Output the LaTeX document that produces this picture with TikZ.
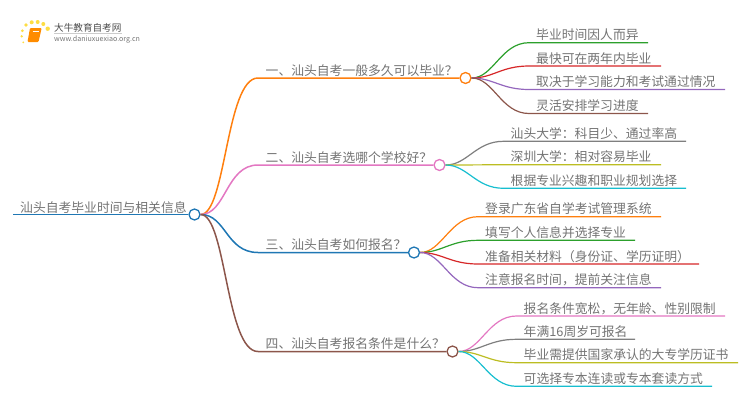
\documentclass[tikz,border=0pt]{standalone}
\usepackage{fontspec}
\setmainfont{Noto Sans CJK SC}
\definecolor{corange}{HTML}{FF7F0E}
\definecolor{cpink}{HTML}{E377C2}
\definecolor{cblue}{HTML}{1F77B4}
\definecolor{cbrown}{HTML}{8C564B}
\definecolor{cgreen}{HTML}{2CA02C}
\definecolor{cred}{HTML}{D62728}
\definecolor{cpurple}{HTML}{9467BD}
\definecolor{cgray}{HTML}{7F7F7F}
\definecolor{colive}{HTML}{BCBD22}
\definecolor{ccyan}{HTML}{17BECF}
\begin{document}
\begin{tikzpicture}[x=1pt,y=-1pt,
label/.style={anchor=base west,inner sep=0pt,text=black!55,font=\fontsize{12.8}{14}\selectfont},
knot/.style={circle,draw=#1,fill=white,line width=1.3pt,minimum size=11pt,inner sep=0pt},
wire/.style={line width=1.2pt}]
 \useasboundingbox (0,0) rectangle (750,410);
 % logo
 \foreach \X/\Y/\R in {21.7/36.3/1.3,22.3/30.7/1.5,23.3/42.3/1,26/25/1.8,31.7/22.3/2,37.7/22/2,43.3/24/2,47.7/28.7/2.2} 
 {\fill[yellow!70!orange,opacity=0.75] (\X,\Y) circle (\R);}
 \fill[orange!90!yellow,rounded corners=1pt] (30,28) -- (41.7,28) -- (38.5,42) -- (27.5,42) -- cycle;
 \draw[white,line width=0.5pt] (32.5,31) -- (39,31);
 \node[anchor=base west,inner sep=0pt,text=black!70,font=\fontsize{9.6}{11}\selectfont] (logo) at (54,31) {大牛教育自考网};
 \draw[black!20,line width=0.5pt] (54,33.5) -- (122,33.5);
 \node[anchor=base west,inner sep=0pt,text=black!55,font=\fontsize{7.1}{8}\selectfont] (url) at (54,41.5) {www.daniuxuexiao.org.cn};
 % root
 \coordinate (rootl) at (13,214.5);
 \node[knot=cblue] (root) at (194.5,214.5) {};
 \node[label] (roott) at (20,212) {汕头自考毕业时间与相关信息};
 \draw[cblue,line width=1.8pt] (rootl) -- (root);
 % branches
 \foreach \N/\Y/\XE/\C/\T in {1/78/465.5/corange/一、汕头自考一般多久可以毕业？,
 2/165/439.5/cpink/二、汕头自考选哪个学校好？,
 3/252.5/414/cblue/三、汕头自考如何报名？,
 4/351.5/452.5/cbrown/四、汕头自考报名条件是什么？}
 {\coordinate (k\N) at (258,\Y);
 \node[knot=\C] (b\N) at (\XE,\Y) {};
 \node[label] (bt\N) at (265.5,\Y-3) {\T};
 \draw[wire,\C,line width=1.5pt] (root) .. controls (226,214.5) and (226,\Y) .. (k\N) -- (b\N);}
 % leaves
 \foreach \B/\N/\KX/\Y/\XE/\C/\T in {1/1/529/42.7/648/cgreen/毕业时间因人而异,
 1/2/529/66/661/cred/最快可在两年内毕业,
 1/3/529/89.5/725/cpurple/取决于学习能力和考试通过情况,
 1/4/529/113.5/648/cbrown/灵活安排学习进度,
 2/1/503.5/141.3/686/cgray/汕头大学：科目少、通过率高,
 2/2/503.5/164.8/661/colive/深圳大学：相对容易毕业,
 2/3/503.5/188.3/686/ccyan/根据专业兴趣和职业规划选择,
 3/1/478/216.7/661/corange/登录广东省自学考试管理系统,
 3/2/478/240.3/635/cgreen/填写个人信息并选择专业,
 3/3/478/264/699/cred/准备相关材料（身份证、学历证明）,
 3/4/478/287.7/661/cpurple/注意报名时间，提前关注信息,
 4/1/516.5/316/725/cpink/报名条件宽松，无年龄、性别限制,
 4/2/516.5/339.3/635/cgray/年满16周岁可报名,
 4/3/516.5/362.7/738/colive/毕业需提供国家承认的大专学历证书,
 4/4/516.5/386.3/712/ccyan/可选择专本连读或专本套读方式}
 {\coordinate (k\B\N) at (\KX,\Y);
 \coordinate (e\B\N) at (\XE,\Y);
 \node[label] (t\B\N) at (\KX+7,\Y-3) {\T};
 \draw[wire,\C] (b\B) .. controls ([xshift=28pt]b\B.center) and (\KX-28,\Y) .. (k\B\N) -- (e\B\N);}
\end{tikzpicture}
\end{document}
